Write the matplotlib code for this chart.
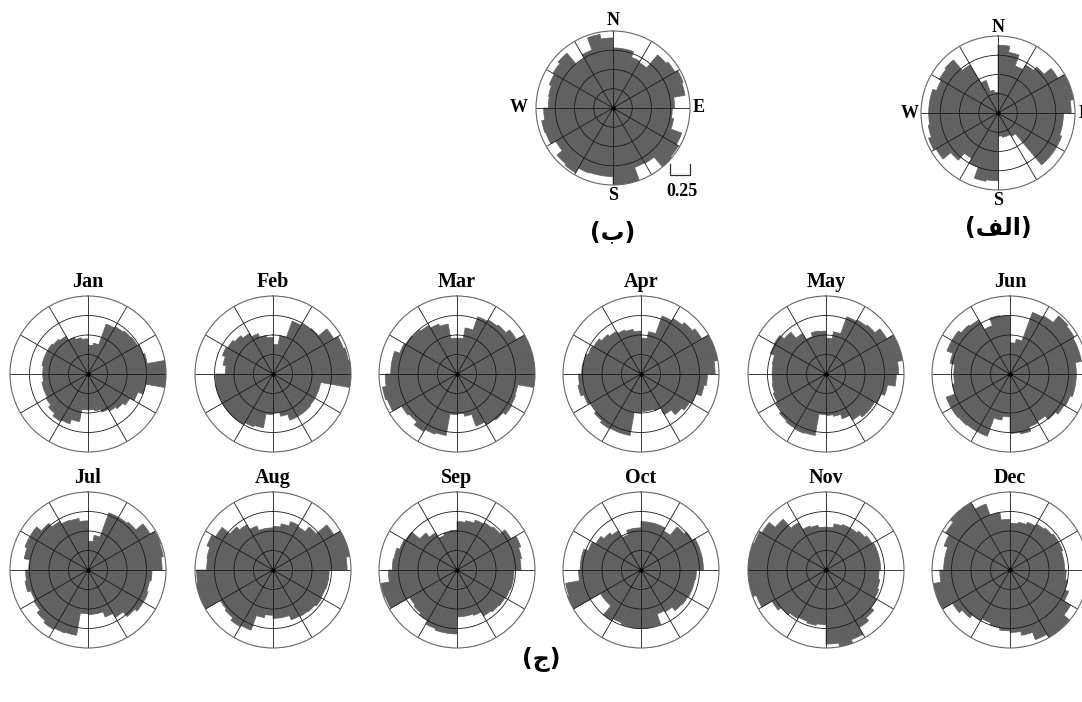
import matplotlib
matplotlib.use("Agg")
import matplotlib.pyplot as plt
import numpy as np

# 10-degree direction bins, clockwise from north
dirs = np.arange(0, 360, 10)

# normalised frequency per bin (outer circle = 1)
annual_b = [0.78, 0.78, 0.70, 0.68, 0.90, 0.93, 0.97, 0.95, 0.80, 0.77, 0.80, 0.95,
            0.98, 1.00, 0.83, 0.82, 1.00, 1.00, 0.89, 0.89, 0.90, 0.97, 0.95, 0.86,
            0.93, 0.94, 0.90, 0.84, 0.85, 0.88, 0.90, 0.93, 0.74, 0.80, 0.97, 0.91]
annual_alef = [0.88, 0.80, 0.65, 0.72, 0.78, 0.90, 1.00, 1.00, 0.95, 0.85, 0.85, 0.88,
               0.88, 0.88, 0.35, 0.32, 0.32, 0.30, 0.88, 0.90, 0.75, 0.68, 0.80, 0.93,
               0.96, 0.92, 0.90, 0.90, 0.90, 0.85, 0.88, 0.90, 0.72, 0.45, 0.30, 0.27]

jan = [0.37, 0.40, 0.68, 0.70, 0.72, 0.73, 0.75, 0.77, 1.00, 1.00, 0.75, 0.68,
       0.62, 0.58, 0.55, 0.52, 0.48, 0.46, 0.46, 0.62, 0.68, 0.70, 0.66, 0.62,
       0.60, 0.60, 0.58, 0.58, 0.60, 0.60, 0.60, 0.58, 0.56, 0.50, 0.47, 0.45]
feb = [0.38, 0.50, 0.72, 0.74, 0.76, 0.90, 0.96, 0.98, 1.00, 1.00, 0.62, 0.62,
       0.62, 0.63, 0.63, 0.63, 0.55, 0.50, 0.52, 0.70, 0.72, 0.75, 0.75, 0.75,
       0.75, 0.75, 0.74, 0.61, 0.65, 0.69, 0.67, 0.64, 0.60, 0.55, 0.50, 0.47]
mar = [0.46, 0.60, 0.78, 0.80, 0.82, 0.88, 1.00, 1.00, 1.00, 1.00, 0.79, 0.80,
       0.81, 0.77, 0.75, 0.71, 0.55, 0.51, 0.52, 0.80, 0.82, 0.85, 0.80, 0.82,
       0.95, 0.97, 0.92, 0.85, 0.85, 0.78, 0.76, 0.74, 0.72, 0.68, 0.65, 0.46]
apr = [0.46, 0.55, 0.79, 0.82, 0.86, 0.90, 1.00, 1.00, 0.95, 0.85, 0.82, 0.75,
       0.72, 0.68, 0.60, 0.50, 0.48, 0.48, 0.50, 0.80, 0.80, 0.81, 0.78, 0.74,
       0.78, 0.82, 0.80, 0.76, 0.75, 0.72, 0.70, 0.66, 0.63, 0.60, 0.58, 0.55]
may = [0.46, 0.55, 0.78, 0.80, 0.82, 0.90, 1.00, 1.00, 0.93, 0.90, 0.80, 0.75,
       0.72, 0.72, 0.68, 0.61, 0.55, 0.53, 0.52, 0.80, 0.81, 0.80, 0.78, 0.74,
       0.72, 0.70, 0.69, 0.69, 0.70, 0.76, 0.77, 0.70, 0.60, 0.51, 0.56, 0.55]
jun = [0.40, 0.45, 0.84, 0.86, 0.97, 0.95, 0.93, 0.93, 0.85, 0.85, 0.85, 0.82,
       0.80, 0.76, 0.70, 0.72, 0.78, 0.76, 0.55, 0.60, 0.85, 0.85, 0.86, 0.87,
       0.87, 0.75, 0.72, 0.72, 0.78, 0.86, 0.86, 0.82, 0.80, 0.66, 0.76, 0.75]
jul = [0.37, 0.45, 0.78, 0.78, 0.80, 0.92, 0.99, 0.98, 0.95, 0.82, 0.80, 0.82,
       0.82, 0.78, 0.70, 0.64, 0.57, 0.57, 0.56, 0.85, 0.86, 0.88, 0.85, 0.80,
       0.78, 0.82, 0.80, 0.76, 0.83, 0.86, 0.86, 0.78, 0.72, 0.68, 0.67, 0.63]
aug = [0.56, 0.60, 0.66, 0.64, 0.72, 0.90, 1.00, 1.00, 0.95, 0.72, 0.72, 0.71,
       0.72, 0.70, 0.69, 0.68, 0.62, 0.62, 0.58, 0.62, 0.82, 0.84, 0.80, 0.78,
       1.00, 1.00, 0.98, 0.85, 0.86, 0.90, 0.85, 0.72, 0.67, 0.60, 0.54, 0.54]
sep = [0.62, 0.64, 0.68, 0.70, 0.72, 0.80, 0.87, 0.84, 0.82, 0.73, 0.73, 0.72,
       0.71, 0.70, 0.68, 0.62, 0.60, 0.60, 0.82, 0.82, 0.80, 0.75, 0.72, 0.70,
       0.98, 0.99, 0.88, 0.83, 0.82, 0.78, 0.76, 0.62, 0.55, 0.47, 0.50, 0.51]
oct_ = [0.62, 0.62, 0.62, 0.58, 0.72, 0.76, 0.80, 0.80, 0.80, 0.71, 0.70, 0.70,
        0.69, 0.68, 0.62, 0.60, 0.74, 0.75, 0.75, 0.74, 0.72, 0.75, 0.60, 0.60,
        1.00, 0.98, 0.80, 0.78, 0.78, 0.72, 0.67, 0.62, 0.58, 0.48, 0.54, 0.54]
nov = [0.55, 0.60, 0.62, 0.62, 0.65, 0.68, 0.70, 0.70, 0.70, 0.68, 0.70, 0.72,
       0.75, 0.80, 0.85, 0.95, 1.00, 0.95, 0.70, 0.72, 0.70, 0.72, 0.75, 0.80,
       0.95, 1.00, 1.00, 1.00, 1.00, 0.98, 0.95, 0.85, 0.70, 0.60, 0.58, 0.55]
dec = [0.60, 0.62, 0.65, 0.68, 0.70, 0.72, 0.72, 0.70, 0.70, 0.72, 0.75, 0.80,
       0.90, 1.00, 1.00, 0.95, 0.85, 0.80, 0.78, 0.75, 0.72, 0.75, 0.80, 0.85,
       1.00, 1.00, 0.90, 0.85, 0.85, 0.90, 0.95, 1.00, 1.00, 0.90, 0.75, 0.65]

month_names = ["Jan", "Feb", "Mar", "Apr", "May", "Jun",
               "Jul", "Aug", "Sep", "Oct", "Nov", "Dec"]
monthly = [jan, feb, mar, apr, may, jun, jul, aug, sep, oct_, nov, dec]

# presentation forms so the Arabic letters come out joined
label_b = "(\ufe8f)"
label_alef = "(\ufed2\ufedf\ufe8d)"
label_jim = "(\ufe9d)"

W, H = 1082, 702
BAR = "#616161"
LATIN = "Liberation Serif"

fig = plt.figure(figsize=(W / 100, H / 100), dpi=100)


def rose(cx, cy, vals, R=78):
    ax = fig.add_axes([(cx - R) / W, (H - cy - R) / H, 2 * R / W, 2 * R / H],
                      projection="polar")
    ax.set_theta_zero_location("N")
    ax.set_theta_direction(-1)
    # edge in the same grey hides the seams between neighbouring wedges
    ax.bar(np.radians(dirs), vals, width=np.radians(10), align="edge",
           color=BAR, edgecolor=BAR, linewidth=0.5)
    ax.set_ylim(0, 1)
    ax.set_yticks([0.25, 0.5, 0.75])
    ax.set_yticklabels([])
    ax.set_xticks(np.radians(np.arange(0, 360, 30)))
    ax.set_xticklabels([])
    ax.grid(True, color="#1a1a1a", linewidth=0.6)
    ax.spines["polar"].set_color("#666666")
    ax.spines["polar"].set_linewidth(0.8)
    ax.plot([0], [0], "o", color="black", markersize=2.2)
    return ax


def compass(ax, off):
    kw = dict(ha="center", va="center", fontsize=13, fontweight="bold",
              family=LATIN, clip_on=False)
    for name, ang in zip("NESW", [0, 90, 180, 270]):
        ax.text(np.radians(ang), 1 + off[name], name, **kw)


# annual roses
ax_b = rose(613, 108, annual_b, R=77)
compass(ax_b, {"N": 0.13, "E": 0.11, "S": 0.13, "W": 0.23})
ax_b.plot([0.872, 0.872, 0.997, 0.997], [0.138, 0.067, 0.067, 0.138],
          transform=ax_b.transAxes, color="#333333", linewidth=0.9, clip_on=False)
ax_b.text(0.95, -0.045, "0.25", transform=ax_b.transAxes, ha="center", va="center",
          fontsize=13, fontweight="bold", family=LATIN)

ax_a = rose(998, 113, annual_alef, R=77)
compass(ax_a, {"N": 0.11, "E": 0.13, "S": 0.13, "W": 0.14})

fig.text(613 / W, 1 - 232 / H, label_b, ha="center", va="center",
         fontsize=17, fontweight="bold", family=["DejaVu Sans"])
fig.text(998 / W, 1 - 228 / H, label_alef, ha="center", va="center",
         fontsize=17, fontweight="bold", family=["DejaVu Sans"])

# monthly roses, two rows of six
xs = [88, 273, 457, 641, 826, 1010]
ys = [374, 570]
for i, (name, vals) in enumerate(zip(month_names, monthly)):
    cx, cy = xs[i % 6], ys[i // 6]
    rose(cx, cy, vals)
    fig.text(cx / W, 1 - (cy - 92) / H, name, ha="center", va="center",
             fontsize=14.5, fontweight="bold", family=LATIN)

fig.text(541 / W, 1 - 660 / H, label_jim, ha="center", va="center",
         fontsize=17, fontweight="bold", family=["DejaVu Sans"])

fig.savefig("out.png", dpi=100)
